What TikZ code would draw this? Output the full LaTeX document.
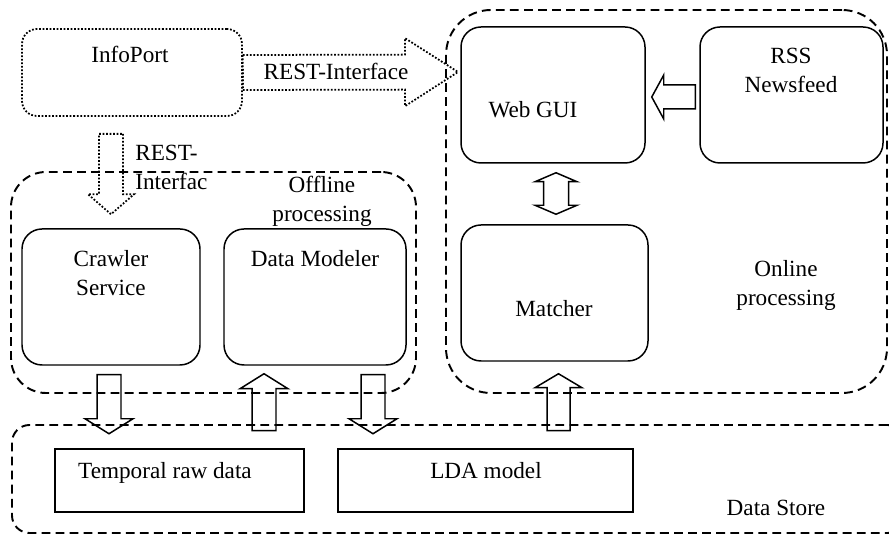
\documentclass[tikz,border=0pt]{standalone}
\usepackage{fontspec}
\setmainfont{Liberation Serif}
\usetikzlibrary{calc,fit}

\tikzset{
  box/.style={draw, line width=0.85pt, rounded corners=0.4cm, inner sep=0pt},
  dotbox/.style={box, line width=1pt, densely dotted, rounded corners=0.3cm},
  group/.style={draw, line width=1.1pt, dash pattern=on 5pt off 3pt, inner sep=0pt},
  store/.style={draw, line width=0.85pt, inner sep=0pt},
  txt/.style={font=\fontsize{13.2}{17}\selectfont, inner sep=0pt, anchor=base, align=center},
  fatline/.style={draw, line width=0.85pt, line join=miter},
  dotline/.style={fatline, line width=1pt, densely dotted},
  % block arrow: half shaft, half head, head length
  fat/.style n args={3}{to path={
    ($(\tikztostart)!#1!90:(\tikztotarget)$)
    -- ($($(\tikztotarget)!#3!(\tikztostart)$)!#1!-90:(\tikztostart)$)
    -- ($($(\tikztotarget)!#3!(\tikztostart)$)!#2!-90:(\tikztostart)$)
    -- (\tikztotarget)
    -- ($($(\tikztotarget)!#3!(\tikztostart)$)!#2!90:(\tikztostart)$)
    -- ($($(\tikztotarget)!#3!(\tikztostart)$)!#1!90:(\tikztostart)$)
    -- ($(\tikztostart)!#1!-90:(\tikztotarget)$) -- cycle}},
  fatboth/.style n args={3}{to path={
    (\tikztostart)
    -- ($($(\tikztostart)!#3!(\tikztotarget)$)!#2!90:(\tikztotarget)$)
    -- ($($(\tikztostart)!#3!(\tikztotarget)$)!#1!90:(\tikztotarget)$)
    -- ($($(\tikztotarget)!#3!(\tikztostart)$)!#1!-90:(\tikztostart)$)
    -- ($($(\tikztotarget)!#3!(\tikztostart)$)!#2!-90:(\tikztostart)$)
    -- (\tikztotarget)
    -- ($($(\tikztotarget)!#3!(\tikztostart)$)!#2!90:(\tikztostart)$)
    -- ($($(\tikztotarget)!#3!(\tikztostart)$)!#1!90:(\tikztostart)$)
    -- ($($(\tikztostart)!#3!(\tikztotarget)$)!#1!-90:(\tikztotarget)$)
    -- ($($(\tikztostart)!#3!(\tikztotarget)$)!#2!-90:(\tikztotarget)$)
    -- cycle}}
}

\begin{document}
\begin{tikzpicture}[x=0.02cm, y=-0.02cm]
\clip (0,0) rectangle (889,536);

% dashed groups
\node[group, rounded corners=0.7cm, fit={(11,172) (416,393)}] (offline) {};
\node[group, rounded corners=0.9cm, fit={(446,10) (887,393)}] (online) {};
\node[group, rounded corners=0.35cm, fit={(12,425) (905,533)}] (datastore) {};

% components
\node[dotbox, fit={(22,29) (242,116)}] (infoport) {};
\node[box, fit={(22,229) (200,365)}] (crawler) {};
\node[box, fit={(224,229) (406,365)}] (modeler) {};
\node[box, fit={(461,27) (645,163)}] (webgui) {};
\node[box, fit={(700,27) (883,163)}] (rss) {};
\node[box, fit={(461,225) (648,361)}] (matcher) {};
\node[store, fit={(55,449) (304,512)}] (rawdata) {};
\node[store, fit={(338,449) (633,512)}] (lda) {};

% texts (two-line texts sit on their last baseline)
\node[txt] (infoport-t) at (130,63) {InfoPort};
\node[txt] (rest-t) at (336,80) {REST-Interface};
\node[txt, anchor=base west, align=left] (rest2-t) at (135,190) {REST-\\Interfac};
\node[txt] (offline-t) at (322,222) {Offline\\processing};
\node[txt] (crawler-t) at (111,296) {Crawler\\Service};
\node[txt] (modeler-t) at (315,267) {Data Modeler};
\node[txt] (rawdata-t) at (165,479) {Temporal raw data};
\node[txt] (lda-t) at (486,479) {LDA model};
\node[txt] (datastore-t) at (776,516) {Data Store};
\node[txt] (webgui-t) at (533,118) {Web GUI};
\node[txt] (rss-t) at (791,93) {RSS\\Newsfeed};
\node[txt] (matcher-t) at (554,317) {Matcher};
\node[txt] (online-t) at (786,306) {Online\\processing};

% arrow ends
\coordinate (rest-tip) at (458,72);
\coordinate (rest-a) at ($(infoport.south)+(-21,17)$);
\coordinate (rest-b) at ($(crawler.north)+(0,-14)$);
\coordinate (crawl-out) at ($(crawler.south)+(-2,9)$);
\coordinate (raw-in) at ($(crawl-out)+(0,59)$);
\coordinate (model-in) at ($(modeler.south)+(-51,8)$);
\coordinate (store-up1) at ($(model-in)+(0,57)$);
\coordinate (model-out) at ($(modeler.south)+(58,9)$);
\coordinate (lda-in) at ($(model-out)+(0,59)$);
\coordinate (match-in) at ($(matcher.south)+(4,12)$);
\coordinate (store-up2) at ($(match-in)+(0,57)$);
\coordinate (rss-out) at ($(rss.west)+(-4,2)$);
\coordinate (gui-in) at ($(webgui.east)+(6,2)$);
\coordinate (gui-down) at ($(webgui.south)+(3,9)$);
\coordinate (match-up) at ($(matcher.north)+(1.5,-10)$);

% block arrows
\draw[dotline, fat={0.35cm}{0.68cm}{1.06cm}] (infoport.east) to (rest-tip);
\draw[dotline, fat={0.24cm}{0.46cm}{0.4cm}] (rest-a) to (rest-b);
\draw[fatline, fat={0.24cm}{0.48cm}{0.3cm}] (crawl-out) to (raw-in);
\draw[fatline, fat={0.24cm}{0.48cm}{0.3cm}] (store-up1) to (model-in);
\draw[fatline, fat={0.24cm}{0.48cm}{0.3cm}] (model-out) to (lda-in);
\draw[fatline, fat={0.23cm}{0.47cm}{0.28cm}] (store-up2) to (match-in);
\draw[fatline, fat={0.24cm}{0.44cm}{0.24cm}] (rss-out) to (gui-in);
\draw[fatline, fatboth={0.25cm}{0.42cm}{0.18cm}] (gui-down) to (match-up);
\end{tikzpicture}
\end{document}
